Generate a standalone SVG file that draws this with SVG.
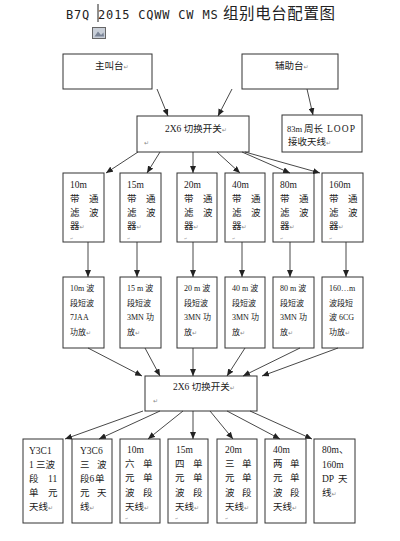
<svg xmlns="http://www.w3.org/2000/svg" width="400" height="541" viewBox="0 0 400 541">
<style>
.bg{fill:#fff}
.box{fill:#fff;stroke:#333;stroke-width:1}
.t{font-family:"Liberation Serif","Noto Sans CJK SC",serif;font-size:9.5px;fill:#1a1a1a}
.s{font-size:8px}
.pm{font-family:"DejaVu Sans",sans-serif;font-size:6px;fill:#888}
.tiny{font-family:"DejaVu Sans",sans-serif;font-size:4px;fill:#aaa}
.ln{stroke:#333;stroke-width:0.9;fill:none;marker-end:url(#ah)}
.title{font-family:"DejaVu Sans Mono","Liberation Mono",monospace;font-size:12px;letter-spacing:0.8px;fill:#222}
.titlec{font-family:"Noto Sans CJK SC",sans-serif;font-size:15.5px;fill:#222}
</style>
<defs>
<marker id="ah" markerUnits="userSpaceOnUse" markerWidth="7" markerHeight="6" refX="7" refY="3" orient="auto">
<path d="M0,0 L7,3 L0,6 z" fill="#222"/>
</marker>
</defs>
<rect class="bg" x="0" y="0" width="400" height="541"/>

<g id="title">
<text x="66" y="19"><tspan class="title">B7Q 2015 CQWW CW MS</tspan><tspan class="titlec" x="223" textLength="112">组别电台配置图</tspan></text>
<line x1="98" y1="4" x2="98" y2="22" stroke="#222" stroke-width="1"/>
<rect x="92.5" y="27.5" width="13" height="11" fill="#c9cfd8" stroke="#666" stroke-width="1"/>
<path d="M94.5,36.5 L98,31.5 L101,35 L103.5,32.5 L104,36.5 z" fill="#7a8496"/>
</g>

<g id="caller">
<rect class="box" x="63" y="54" width="89" height="35"/>
<text class="t" x="95" y="68.5">主叫台<tspan class="pm">↵</tspan></text>
</g>
<g id="aux">
<rect class="box" x="242" y="54" width="96" height="35"/>
<text class="t" x="275" y="68.5">辅助台<tspan class="pm">↵</tspan></text>
</g>
<g id="switch1">
<rect class="box" x="137" y="116" width="112" height="36"/>
<text class="t" x="165" y="131.5">2X6 切换开关<tspan class="pm">↵</tspan></text>
<text class="pm" x="144" y="145">↵</text>
</g>
<g id="loop">
<rect class="box" x="282" y="115" width="80" height="37"/>
<text class="t" y="131.5"><tspan x="287" style="font-size:8.5px">83m</tspan><tspan x="304">周长</tspan><tspan x="327" textLength="28">LOOP</tspan></text>
<text class="t" x="288" y="145">接收天线<tspan class="pm">↵</tspan></text>
</g>

<g id="f10"><rect class="box" x="63" y="173" width="41" height="69"/>
<text class="t" x="70" y="187.5">10m</text>
<text class="t" y="201.5"><tspan x="70">带</tspan><tspan x="89">通</tspan></text>
<text class="t" y="215.5"><tspan x="70">滤</tspan><tspan x="89">波</tspan></text>
<text class="t" x="70" y="229">器<tspan class="pm">↵</tspan></text>
<text class="tiny" x="70" y="240">↵</text></g>
<g id="f15"><rect class="box" x="120" y="173" width="41" height="69"/>
<text class="t" x="127" y="187.5">15m</text>
<text class="t" y="201.5"><tspan x="127">带</tspan><tspan x="146">通</tspan></text>
<text class="t" y="215.5"><tspan x="127">滤</tspan><tspan x="146">波</tspan></text>
<text class="t" x="127" y="229">器<tspan class="pm">↵</tspan></text>
<text class="tiny" x="127" y="240">↵</text></g>
<g id="f20"><rect class="box" x="177" y="173" width="40" height="69"/>
<text class="t" x="184" y="187.5">20m</text>
<text class="t" y="201.5"><tspan x="184">带</tspan><tspan x="203">通</tspan></text>
<text class="t" y="215.5"><tspan x="184">滤</tspan><tspan x="203">波</tspan></text>
<text class="t" x="184" y="229">器<tspan class="pm">↵</tspan></text>
<text class="tiny" x="184" y="240">↵</text></g>
<g id="f40"><rect class="box" x="225" y="173" width="40" height="69"/>
<text class="t" x="232" y="187.5">40m</text>
<text class="t" y="201.5"><tspan x="232">带</tspan><tspan x="251">通</tspan></text>
<text class="t" y="215.5"><tspan x="232">滤</tspan><tspan x="251">波</tspan></text>
<text class="t" x="232" y="229">器<tspan class="pm">↵</tspan></text>
<text class="tiny" x="232" y="240">↵</text></g>
<g id="f80"><rect class="box" x="273" y="173" width="41" height="69"/>
<text class="t" x="280" y="187.5">80m</text>
<text class="t" y="201.5"><tspan x="280">带</tspan><tspan x="299">通</tspan></text>
<text class="t" y="215.5"><tspan x="280">滤</tspan><tspan x="299">波</tspan></text>
<text class="t" x="280" y="229">器<tspan class="pm">↵</tspan></text>
<text class="tiny" x="280" y="240">↵</text></g>
<g id="f160"><rect class="box" x="322" y="173" width="41" height="69"/>
<text class="t" x="329" y="187.5">160m</text>
<text class="t" y="201.5"><tspan x="329">带</tspan><tspan x="348">通</tspan></text>
<text class="t" y="215.5"><tspan x="329">滤</tspan><tspan x="348">波</tspan></text>
<text class="t" x="329" y="229">器<tspan class="pm">↵</tspan></text>
<text class="tiny" x="329" y="240">↵</text></g>

<g id="a10"><rect class="box" x="63" y="277" width="41" height="71"/>
<text class="t s" x="70" y="291">10m 波</text>
<text class="t s" x="70" y="305.5">段短波</text>
<text class="t s" x="70" y="320">7JAA</text>
<text class="t s" x="70" y="334.5">功放<tspan class="pm">↵</tspan></text></g>
<g id="a15"><rect class="box" x="120" y="277" width="41" height="71"/>
<text class="t s" x="127" y="291">15 m 波</text>
<text class="t s" x="127" y="305.5">段短波</text>
<text class="t s" x="127" y="320">3MN 功</text>
<text class="t s" x="127" y="334.5">放<tspan class="pm">↵</tspan></text></g>
<g id="a20"><rect class="box" x="177" y="277" width="40" height="71"/>
<text class="t s" x="184" y="291">20 m 波</text>
<text class="t s" x="184" y="305.5">段短波</text>
<text class="t s" x="184" y="320">3MN 功</text>
<text class="t s" x="184" y="334.5">放<tspan class="pm">↵</tspan></text></g>
<g id="a40"><rect class="box" x="225" y="277" width="40" height="71"/>
<text class="t s" x="232" y="291">40 m 波</text>
<text class="t s" x="232" y="305.5">段短波</text>
<text class="t s" x="232" y="320">3MN 功</text>
<text class="t s" x="232" y="334.5">放<tspan class="pm">↵</tspan></text></g>
<g id="a80"><rect class="box" x="273" y="277" width="41" height="71"/>
<text class="t s" x="280" y="291">80 m 波</text>
<text class="t s" x="280" y="305.5">段短波</text>
<text class="t s" x="280" y="320">3MN 功</text>
<text class="t s" x="280" y="334.5">放<tspan class="pm">↵</tspan></text></g>
<g id="a160"><rect class="box" x="322" y="277" width="41" height="71"/>
<text class="t s" x="329" y="291">160…m</text>
<text class="t s" x="329" y="305.5">波段短</text>
<text class="t s" x="329" y="320">波 6CG</text>
<text class="t s" x="329" y="334.5">功放<tspan class="pm">↵</tspan></text></g>

<g id="switch2">
<rect class="box" x="145" y="376" width="112" height="35"/>
<text class="t" x="173" y="390">2X6 切换开关<tspan class="pm">↵</tspan></text>
<text class="pm" x="153" y="403">↵</text>
</g>

<g id="y3c1"><rect class="box" x="23" y="439" width="40" height="84"/>
<text class="t" x="29" y="453.5">Y3C1</text>
<text class="t" y="467.5"><tspan x="29">1</tspan><tspan x="36">三波</tspan></text>
<text class="t" y="481.5"><tspan x="29">段</tspan><tspan x="48">11</tspan></text>
<text class="t" y="495.5"><tspan x="29">单</tspan><tspan x="48">元</tspan></text>
<text class="t" x="29" y="509.5">天线<tspan class="pm">↵</tspan></text></g>
<g id="y3c6"><rect class="box" x="72" y="439" width="40" height="84"/>
<text class="t" x="80" y="453.5">Y3C6</text>
<text class="t" y="467.5"><tspan x="80">三</tspan><tspan x="97">波</tspan></text>
<text class="t" y="481.5"><tspan x="80">段</tspan><tspan x="89.5">6</tspan><tspan x="95">单</tspan></text>
<text class="t" y="495.5"><tspan x="80">元</tspan><tspan x="97">天</tspan></text>
<text class="t" x="80" y="509.5">线<tspan class="pm">↵</tspan></text></g>
<g id="b10"><rect class="box" x="120" y="439" width="40" height="84"/>
<text class="t" x="127" y="452.5">10m</text>
<text class="t" y="466.5"><tspan x="125">六</tspan><tspan x="143">单</tspan></text>
<text class="t" y="481"><tspan x="125">元</tspan><tspan x="143">单</tspan></text>
<text class="t" y="495.5"><tspan x="125">波</tspan><tspan x="143">段</tspan></text>
<text class="t" x="125" y="509.5">天线<tspan class="pm">↵</tspan></text>
<text class="tiny" x="125" y="520">↵</text></g>
<g id="b15"><rect class="box" x="168" y="439" width="40" height="84"/>
<text class="t" x="176" y="452.5">15m</text>
<text class="t" y="466.5"><tspan x="175">四</tspan><tspan x="193">单</tspan></text>
<text class="t" y="481"><tspan x="175">元</tspan><tspan x="193">单</tspan></text>
<text class="t" y="495.5"><tspan x="175">波</tspan><tspan x="193">段</tspan></text>
<text class="t" x="175" y="509.5">天线<tspan class="pm">↵</tspan></text>
<text class="tiny" x="175" y="520">↵</text></g>
<g id="b20"><rect class="box" x="217" y="439" width="40" height="84"/>
<text class="t" x="225" y="452.5">20m</text>
<text class="t" y="466.5"><tspan x="225">三</tspan><tspan x="242">单</tspan></text>
<text class="t" y="481"><tspan x="225">元</tspan><tspan x="242">单</tspan></text>
<text class="t" y="495.5"><tspan x="225">波</tspan><tspan x="242">段</tspan></text>
<text class="t" x="225" y="509.5">天线<tspan class="pm">↵</tspan></text>
<text class="tiny" x="225" y="520">↵</text></g>
<g id="b40"><rect class="box" x="265" y="439" width="41" height="84"/>
<text class="t" x="273" y="452.5">40m</text>
<text class="t" y="466.5"><tspan x="273">两</tspan><tspan x="290">单</tspan></text>
<text class="t" y="481"><tspan x="273">元</tspan><tspan x="290">单</tspan></text>
<text class="t" y="495.5"><tspan x="273">波</tspan><tspan x="290">段</tspan></text>
<text class="t" x="273" y="509.5">天线<tspan class="pm">↵</tspan></text></g>
<g id="b80"><rect class="box" x="314" y="439" width="41" height="84"/>
<text class="t" x="322" y="452.5">80m、</text>
<text class="t" x="322" y="468">160m</text>
<text class="t" y="481.5"><tspan x="322">DP</tspan><tspan x="338">天</tspan></text>
<text class="t" x="322" y="495.5">线<tspan class="pm">↵</tspan></text></g>

<g id="connectors">
<line class="ln" x1="157" y1="89" x2="168" y2="116"/>
<line class="ln" x1="232" y1="89" x2="218" y2="116"/>
<line class="ln" x1="307" y1="89" x2="313" y2="115"/>
<line class="ln" x1="138" y1="152" x2="106" y2="173"/>
<line class="ln" x1="160" y1="152" x2="147" y2="173"/>
<line class="ln" x1="193" y1="152" x2="193" y2="173"/>
<line class="ln" x1="217" y1="152" x2="240" y2="173"/>
<line class="ln" x1="242" y1="152" x2="290" y2="173"/>
<line class="ln" x1="245" y1="152" x2="320" y2="173"/>
<line class="ln" x1="88" y1="242" x2="88" y2="277"/>
<line class="ln" x1="137" y1="242" x2="137" y2="277"/>
<line class="ln" x1="193" y1="242" x2="193" y2="277"/>
<line class="ln" x1="242" y1="242" x2="242" y2="277"/>
<line class="ln" x1="290" y1="242" x2="290" y2="277"/>
<line class="ln" x1="346" y1="242" x2="346" y2="277"/>
<line class="ln" x1="88" y1="348" x2="142" y2="376"/>
<line class="ln" x1="145" y1="348" x2="160" y2="376"/>
<line class="ln" x1="193" y1="348" x2="193" y2="376"/>
<line class="ln" x1="245" y1="348" x2="227" y2="376"/>
<line class="ln" x1="300" y1="348" x2="243" y2="376"/>
<line class="ln" x1="338" y1="348" x2="262" y2="376"/>
<line class="ln" x1="143" y1="411" x2="65" y2="439"/>
<line class="ln" x1="160" y1="411" x2="99" y2="439"/>
<line class="ln" x1="183" y1="411" x2="148" y2="439"/>
<line class="ln" x1="193" y1="411" x2="193" y2="439"/>
<line class="ln" x1="210" y1="411" x2="233" y2="439"/>
<line class="ln" x1="227" y1="411" x2="280" y2="439"/>
<line class="ln" x1="250" y1="411" x2="312" y2="439"/>
</g>
</svg>
